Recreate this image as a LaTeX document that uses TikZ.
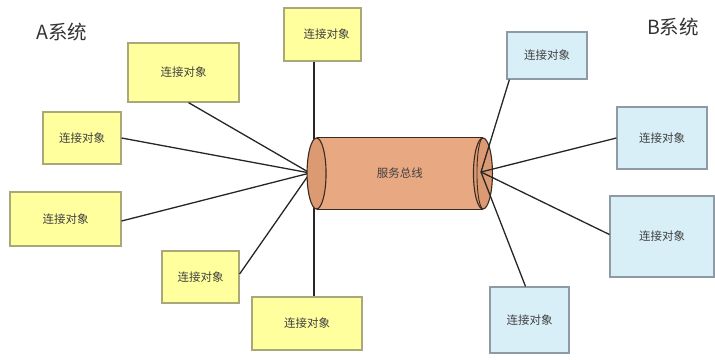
\documentclass[tikz,border=0pt]{standalone}
\usepackage{fontspec}
\newfontfamily\cjk{Noto Sans CJK SC}
\usetikzlibrary{calc}
\definecolor{yfill}{HTML}{FFFF9E}
\definecolor{ydraw}{HTML}{A8A878}
\definecolor{bfill}{HTML}{D9EFF8}
\definecolor{bdraw}{HTML}{8E9AA4}
\definecolor{cylfill}{HTML}{E8A982}
\definecolor{cylend}{HTML}{DC9A72}
\definecolor{cyldraw}{HTML}{3A2A20}
\definecolor{txt}{HTML}{404040}
\tikzset{
  ybox/.style={draw=ydraw,line width=1.2pt,fill=yfill,inner sep=0pt,text=txt,font=\cjk\fontsize{11.5}{13}\selectfont},
  bbox/.style={draw=bdraw,line width=1.2pt,fill=bfill,inner sep=0pt,text=txt,font=\cjk\fontsize{11.5}{13}\selectfont},
  conn/.style={draw=black!85,line width=1.3pt},
  syslabel/.style={text=black!80,font=\cjk\fontsize{19.5}{22}\selectfont,inner sep=0pt}
}
\begin{document}
\begin{tikzpicture}[x=1pt,y=-1pt]
\useasboundingbox (0,0) rectangle (715,359);
% labels
\node[syslabel] (lA) at (62,32) {A系统};
\node[syslabel] (lB) at (673,27) {B系统};
% yellow boxes
\node[ybox,minimum width=77pt,minimum height=53pt] (Y1) at (322.5,34.5) {\hspace{8pt}连接对象};
\node[ybox,minimum width=111pt,minimum height=59pt] (Y2) at (183.5,72.5) {连接对象};
\node[ybox,minimum width=78pt,minimum height=52pt] (Y3) at (82,138) {连接对象};
\node[ybox,minimum width=111pt,minimum height=54pt] (Y4) at (65.5,219) {连接对象};
\node[ybox,minimum width=77pt,minimum height=52pt] (Y5) at (200.5,277) {连接对象};
\node[ybox,minimum width=110pt,minimum height=53pt] (Y6) at (307,323.5) {连接对象};
% blue boxes
\node[bbox,minimum width=80pt,minimum height=47pt] (B1) at (547,55.5) {连接对象};
\node[bbox,minimum width=90pt,minimum height=62pt] (B2) at (662,138) {连接对象};
\node[bbox,minimum width=104pt,minimum height=81pt] (B3) at (662,236.5) {连接对象};
\node[bbox,minimum width=79pt,minimum height=66pt] (B4) at (529.5,320) {连接对象};
% convergence points
\coordinate (L) at (310,173);
\coordinate (Lv) at (314,173);
\coordinate (R) at (481,172);
% left connectors (under the bus)
\draw[conn] (Lv |- Y1.south) -- (Lv);
\draw[conn] ($(Y2.south)+(5,0)$) -- (L);
\draw[conn] (Y3.east) -- (L);
\draw[conn] ($(Y4.east)+(0,2)$) -- (L);
\draw[conn] ($(Y5.east)+(0,-3)$) -- (L);
\draw[conn] (Lv |- Y6.north) -- (Lv);
% bus cylinder
\node[inner sep=0pt,minimum width=166pt,minimum height=71pt] (bus) at (399.75,173.5) {};
\fill[cylfill] (bus.north west) rectangle (bus.south east);
\draw[cyldraw,line width=1.1pt] (bus.north west) -- (bus.north east);
\draw[cyldraw,line width=1.1pt] (bus.south west) -- (bus.south east);
\draw[cyldraw,line width=1.1pt,fill=cylend] (bus.west) ellipse [x radius=9.5pt,y radius=35.5pt];
\draw[cyldraw,line width=1.1pt,fill=cylend] (bus.east) ellipse [x radius=9.5pt,y radius=35.5pt];
\draw[cyldraw,line width=0.9pt] (bus.north east) arc[start angle=90,end angle=270,x radius=6pt,y radius=35.5pt];
\node[text=txt,font=\cjk\fontsize{11.5}{13}\selectfont] (bt) at (bus.center) {服务总线};
% right connectors (over the bus end)
\draw[conn] ($(B1.south west)+(3,0)$) -- (R);
\draw[conn] (B2.west) -- (R);
\draw[conn] ($(B3.west)+(0,-2)$) -- (R);
\draw[conn] ($(B4.north)+(-4,0)$) -- (R);
\end{tikzpicture}
\end{document}
